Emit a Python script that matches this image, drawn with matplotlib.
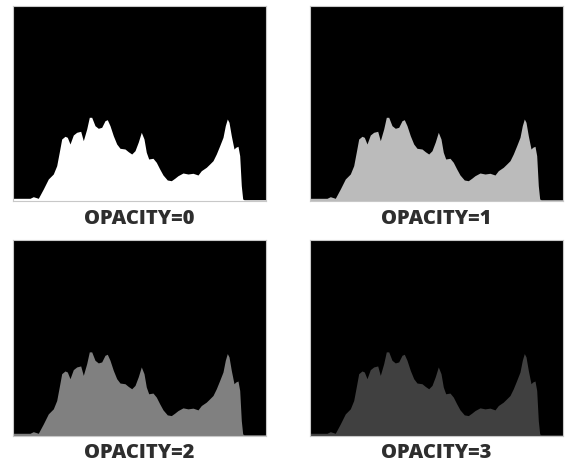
import matplotlib
matplotlib.use("Agg")
import matplotlib.pyplot as plt

# Histogram profile (intensity level 0..253, height in panel units 0..195)
levels = [0, 17, 20.3, 25.3, 30.3, 35.3, 40.3, 43.7, 46.3, 48.7, 52, 54.3, 57, 60.3,
          63.7, 67.7, 70.3, 73.7, 76.3, 78.7, 82, 85.3, 88.7, 92, 94.3, 97, 100.3,
          103.7, 107, 112, 115.3, 118.7, 122, 125.3, 128.3, 131, 133.3, 135.7, 140,
          143.3, 146.7, 150, 154.3, 158.3, 161.7, 165, 170, 175, 180, 185, 188.3,
          193.3, 196.7, 200, 203.3, 206.7, 210, 212.3, 214.3, 216, 218.3, 221, 222.7,
          225, 226.7, 228.3, 229.7, 231, 253]
counts = [2.7, 2.7, 4.3, 2.7, 12, 22, 27, 35.3, 49, 62, 64.7, 63.7, 57, 66,
          68.7, 69.7, 60.3, 72, 83.7, 83.7, 75.3, 72.7, 73.7, 80.3, 81.3, 75.3, 65.3,
          57, 52.7, 52, 49.3, 47, 50.3, 59, 68.7, 62, 48.7, 42, 42.7,
          38.7, 32, 26, 21, 20.3, 22.7, 25.3, 28, 27, 27.7, 26, 30.3,
          33.7, 37, 40.3, 47, 55.3, 63.7, 75.3, 82, 78.7, 65.3, 52, 53.7,
          54.7, 45.3, 15.3, 2, 1.3, 1.3]

labels = ["OPACITY=0", "OPACITY=1", "OPACITY=2", "OPACITY=3"]
fill_colors = ["#ffffff", "#bbbbbb", "#808080", "#404040"]

W, H = 566, 464
fig = plt.figure(figsize=(W / 100, H / 100), dpi=100)
fig.patch.set_facecolor("white")

# panel boxes in pixels: left, top, right, bottom
boxes = [(13, 7, 266, 202), (310, 7, 563, 202),
         (13, 241, 266, 437), (310, 241, 563, 437)]

for (l, t, r, b), lab, col in zip(boxes, labels, fill_colors):
    ax = fig.add_axes([l / W, (H - b) / H, (r - l) / W, (b - t) / H])
    ax.set_facecolor("black")
    ax.fill_between(levels, counts, 0, color=col, linewidth=0)
    ax.set_xlim(0, 253)
    ax.set_ylim(0, 195)
    ax.set_xticks([])
    ax.set_yticks([])
    for s in ax.spines.values():
        s.set_color("#c8c8c8")
        s.set_linewidth(0.8)
    fig.text((l + r) / 2 / W, (H - (b + 16.5)) / H, lab, ha="center", va="center",
             fontsize=14.5, fontweight="heavy", color="#2e2e2e",
             family=["Open Sans", "DejaVu Sans"])

fig.savefig("out.png", dpi=100, facecolor="white")
